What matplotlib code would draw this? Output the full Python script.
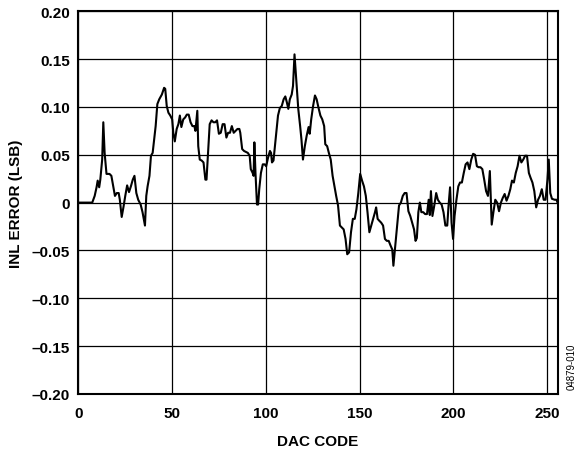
import matplotlib
matplotlib.use("Agg")
import matplotlib.pyplot as plt

# INL error vs DAC code
code = [0, 7.5, 8.8, 9.8, 10.4, 11.2, 11.8, 12.8, 13.4, 14.1, 15.1, 16.7, 17.7, 18.7, 19.6,
        20.6, 21.6, 22.2, 23.2, 24.2, 25.1, 26.1, 27.1, 28.1, 29.1, 30.0, 31.0, 32.0, 33.3,
        34.3, 35.6, 36.3, 37.0, 38.0, 38.8, 39.7, 40.5, 41.3, 42.2, 43.2, 44.6, 45.8, 46.4,
        47.2, 48.1, 49.1, 50.1, 50.7, 51.5, 52.5, 53.4, 54.2, 55.0, 56.0, 57.0, 57.9, 58.9,
        59.9, 60.9, 61.9, 62.5, 63.5, 64.0, 64.8, 65.8, 66.8, 67.8, 68.4, 69.4, 70.1, 71.1,
        72.1, 73.1, 74.0, 75.0, 76.0, 77.0, 78.0, 79.0, 79.9, 80.9, 81.9, 82.9, 83.9, 84.9,
        85.9, 86.4, 87.4, 88.4, 89.4, 90.4, 91.4, 92.0, 93.0, 93.5, 93.9, 94.5, 95.3, 95.9,
        96.5, 97.4, 98.4, 99.4, 100.2, 101.2, 102.2, 102.8, 103.3, 104.1, 104.7, 105.6,
        106.5, 107.5, 108.5, 109.5, 110.4, 111.2, 112.0, 112.8, 113.8, 114.5, 115.3, 116.3,
        117.3, 118.3, 119.0, 119.8, 120.8, 121.8, 122.8, 123.4, 124.2, 125.2, 126.2, 127.1,
        128.1, 129.1, 130.1, 131.1, 131.7, 132.7, 133.6, 134.6, 135.6, 136.6, 137.5, 138.5,
        139.5, 140.5, 141.5, 142.5, 143.4, 144.4, 145.4, 146.4, 147.4, 148.3, 149.3, 150.3,
        151.3, 152.3, 153.3, 154.2, 155.2, 156.2, 157.2, 158.2, 158.8, 159.6, 160.5, 161.5,
        162.5, 163.5, 164.5, 165.5, 166.5, 167.4, 168.0, 169.0, 170.0, 171.0, 172.0, 173.0,
        174.0, 175.0, 176.0, 177.0, 178.0, 179.0, 179.8, 180.5, 181.3, 182.1, 182.9, 183.9,
        184.9, 185.9, 186.8, 187.4, 188.0, 188.8, 189.8, 190.8, 191.7, 192.7, 193.7, 194.7,
        195.7, 196.7, 197.4, 198.2, 199.0, 199.8, 200.6, 201.6, 202.6, 203.5, 204.5, 205.5,
        206.5, 207.5, 208.5, 209.5, 210.5, 211.5, 212.5, 213.4, 214.4, 215.4, 216.4, 217.4,
        218.4, 219.4, 220.4, 221.3, 222.3, 223.3, 224.3, 225.3, 226.3, 227.3, 228.3, 229.3,
        230.3, 231.2, 232.2, 233.2, 234.2, 235.2, 236.2, 237.2, 238.2, 239.2, 240.2, 241.1,
        242.1, 243.1, 244.1, 245.1, 246.1, 247.1, 248.1, 249.1, 250.1, 250.8, 251.6, 252.5,
        253.9, 254.9, 255.5]
inl = [0, 0, 0.007, 0.016, 0.023, 0.016, 0.024, 0.045, 0.084, 0.052, 0.030, 0.030, 0.028,
       0.017, 0.007, 0.010, 0.010, 0.003, -0.015, -0.004, 0.007, 0.018, 0.011, 0.017, 0.024,
       0.028, 0.010, 0.003, -0.002, -0.010, -0.024, 0.007, 0.017, 0.028, 0.049, 0.052, 0.066,
       0.080, 0.103, 0.108, 0.113, 0.120, 0.119, 0.101, 0.094, 0.091, 0.087, 0.073, 0.064,
       0.077, 0.082, 0.091, 0.079, 0.087, 0.089, 0.092, 0.092, 0.084, 0.080, 0.080, 0.075,
       0.096, 0.059, 0.045, 0.044, 0.042, 0.024, 0.024, 0.059, 0.082, 0.086, 0.084, 0.084,
       0.086, 0.072, 0.073, 0.082, 0.082, 0.068, 0.073, 0.073, 0.080, 0.073, 0.075, 0.077,
       0.077, 0.073, 0.056, 0.054, 0.053, 0.052, 0.049, 0.035, 0.031, 0.028, 0.063, 0.031,
       -0.002, -0.002, 0.014, 0.031, 0.040, 0.040, 0.038, 0.047, 0.054, 0.052, 0.042, 0.044,
       0.056, 0.073, 0.091, 0.099, 0.101, 0.108, 0.111, 0.105, 0.098, 0.108, 0.113, 0.122,
       0.155, 0.126, 0.098, 0.080, 0.066, 0.045, 0.059, 0.070, 0.079, 0.072, 0.087, 0.101,
       0.112, 0.108, 0.099, 0.091, 0.087, 0.080, 0.061, 0.059, 0.052, 0.045, 0.028, 0.017,
       0.007, -0.003, -0.024, -0.026, -0.028, -0.038, -0.054, -0.052, -0.031, -0.017, -0.017,
       -0.007, 0.010, 0.030, 0.023, 0.017, 0.007, -0.010, -0.031, -0.024, -0.017, -0.010,
       -0.005, -0.017, -0.019, -0.021, -0.024, -0.038, -0.040, -0.040, -0.045, -0.049,
       -0.066, -0.045, -0.024, -0.003, 0.000, 0.007, 0.010, 0.010, -0.009, -0.014, -0.021,
       -0.028, -0.040, -0.037, -0.010, 0.000, -0.010, -0.010, -0.012, -0.012, 0.003, -0.013,
       0.012, -0.014, -0.003, 0.010, 0.003, 0.000, -0.002, -0.010, -0.024, -0.024, -0.003,
       0.016, -0.021, -0.038, -0.014, 0.003, 0.017, 0.021, 0.021, 0.031, 0.040, 0.042, 0.035,
       0.045, 0.051, 0.050, 0.038, 0.037, 0.037, 0.035, 0.024, 0.012, 0.007, 0.033, -0.023,
       -0.010, 0.003, 0.000, -0.009, 0.000, 0.005, 0.009, 0.002, 0.007, 0.014, 0.023, 0.021,
       0.031, 0.038, 0.049, 0.042, 0.045, 0.049, 0.049, 0.031, 0.026, 0.021, 0.012, -0.005,
       0.003, 0.007, 0.014, 0.003, 0.003, 0.024, 0.045, 0.010, 0.004, 0.003, 0.003, 0.000]

xticks = [0, 50, 100, 150, 200, 250]
yticks = [-0.20, -0.15, -0.10, -0.05, 0, 0.05, 0.10, 0.15, 0.20]
ytick_labels = ["\u20130.20", "\u20130.15", "\u20130.10", "\u20130.05", "0",
                "0.05", "0.10", "0.15", "0.20"]

plt.rcParams['font.family'] = ['Liberation Sans', 'DejaVu Sans']

fig = plt.figure(figsize=(5.79, 4.56), dpi=100)
ax = fig.add_axes([0.135, 0.134, 0.828, 0.839])

ax.plot(code, inl, color='black', lw=1.5, zorder=3)

ax.set_xlim(0, 255.5)
ax.set_ylim(-0.20, 0.20)
ax.set_xticks(xticks)
ax.set_yticks(yticks)
ax.set_yticklabels(ytick_labels)
ax.grid(True, color='black', lw=0.9)
ax.tick_params(length=0, labelsize=11)
ax.tick_params(axis='x', pad=9)
ax.tick_params(axis='y', pad=6)
for lab in ax.get_xticklabels() + ax.get_yticklabels():
    lab.set_fontweight('bold')
for s in ax.spines.values():
    s.set_linewidth(1.5)

ax.set_xlabel("DAC CODE", fontsize=11, fontweight='bold', labelpad=10)
ax.set_ylabel("INL ERROR (LSB)", fontsize=11, fontweight='bold', labelpad=6)

fig.text(0.987, 0.195, "04879-010", rotation=90, fontsize=7, ha='center', va='center')

fig.savefig("out.png", dpi=100)
